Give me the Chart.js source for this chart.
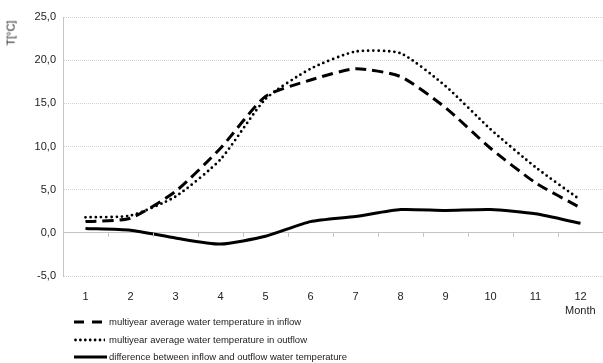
<!DOCTYPE html>
<html><head><meta charset="utf-8">
<script src="https://cdn.jsdelivr.net/npm/chart.js@4/dist/chart.umd.min.js"></script>
<style>
html,body{margin:0;padding:0;background:#fff;}
#wrap{position:relative;width:603px;height:363px;font-family:"Liberation Sans",Arial,sans-serif;color:#222;}
canvas{position:absolute;left:0;top:0;}
.txt{position:absolute;white-space:nowrap;}
#ytitle{left:-2px;top:27px;font-size:11px;transform:rotate(-90deg);transform-origin:center;}
#month{left:565px;top:304px;font-size:11px;}
.leg{position:absolute;left:74px;font-size:9.5px;display:flex;align-items:center;white-space:nowrap;}
.leg svg{margin-right:4px;}
</style></head>
<body><div id="wrap"><canvas id="c" width="603" height="363"></canvas>
<div class="txt" id="ytitle">T[°C]</div>
<div class="txt" id="month">Month</div>
<div class="leg" style="top:316px"><svg width="31" height="8"><line x1="0" y1="4" x2="31" y2="4" stroke="#000" stroke-width="3" stroke-dasharray="10,8"/></svg><span>multiyear average water temperature in inflow</span></div>
<div class="leg" style="top:334px"><svg width="31" height="8"><line x1="1.5" y1="4" x2="31" y2="4" stroke="#000" stroke-width="2.8" stroke-linecap="round" stroke-dasharray="0,4.9"/></svg><span>multiyear average water temperature in outflow</span></div>
<div class="leg" style="top:351px"><svg width="33" height="8" style="margin-right:2px"><line x1="0" y1="4" x2="33" y2="4" stroke="#000" stroke-width="3"/></svg><span>difference between inflow and outflow water temperature</span></div>
</div>
<script>
const months = ['1','2','3','4','5','6','7','8','9','10','11','12'];
const inflow = [1.3, 1.7, 4.8, 9.8, 15.8, 17.7, 19.0, 18.1, 14.5, 9.8, 5.8, 2.9];
const outflow = [1.8, 2.0, 4.2, 8.5, 15.5, 19.0, 21.0, 20.8, 17.0, 12.0, 7.6, 3.8];
const difference = [0.5, 0.3, -0.6, -1.3, -0.4, 1.3, 1.9, 2.7, 2.6, 2.7, 2.2, 1.1];
const yTicks = [-5, 0, 5, 10, 15, 20, 25];

const zeroTicks = {
  id:'zeroTicks',
  afterDatasetsDraw(chart){
    const {ctx, scales:{x,y}} = chart;
    const y0 = y.getPixelForValue(0);
    const n = months.length;
    const step = (x.right - x.left)/n;
    ctx.save();
    ctx.strokeStyle = '#c4c4c4'; ctx.lineWidth = 1;
    for(let i=0;i<=n;i++){
      const px = Math.round(x.left + i*step)+0.5;
      ctx.beginPath(); ctx.moveTo(px,y0); ctx.lineTo(px,y0+4); ctx.stroke();
    }
    ctx.restore();
  }
};

new Chart(document.getElementById('c'),{
  type:'line',
  data:{labels:months,datasets:[
    {label:'multiyear average water temperature in inflow',data:inflow,borderColor:'#000',borderWidth:3,borderDash:[11,6],pointRadius:0,tension:0.2,fill:false},
    {label:'multiyear average water temperature in outflow',data:outflow,borderColor:'#000',borderWidth:2.8,borderDash:[0,5.2],borderCapStyle:'round',pointRadius:0,tension:0.2,fill:false},
    {label:'difference between inflow and outflow water temperature',data:difference,borderColor:'#000',borderWidth:3,pointRadius:0,tension:0.2,fill:false}
  ]},
  options:{
    responsive:false,animation:false,
    layout:{padding:{top:17,right:0,bottom:62,left:0}},
    plugins:{legend:{display:false},tooltip:{enabled:false}},
    scales:{
      x:{offset:true,grid:{display:false},border:{display:false},
        ticks:{color:'#222',font:{family:'Liberation Sans',size:11},padding:6,maxRotation:0},
        afterFit(s){s.height=25;}},
      y:{min:-5,max:25,
        afterBuildTicks(s){s.ticks=yTicks.map(v=>({value:v}));},
        ticks:{color:'#222',font:{family:'Liberation Sans',size:11},padding:7,
          callback:v=>v.toFixed(1).replace('.',',')},
        grid:{drawTicks:false,
          color:c=>c.tick && c.tick.value===0 ? '#c4c4c4' : '#d4d4d4',
          lineWidth:1},
        border:{display:true,color:'#c4c4c4',dash:c=>c.tick && c.tick.value===0 ? [] : [1,1]},
        afterFit(s){s.width=63;}}
    }
  },
  plugins:[zeroTicks]
});
</script></body></html>
